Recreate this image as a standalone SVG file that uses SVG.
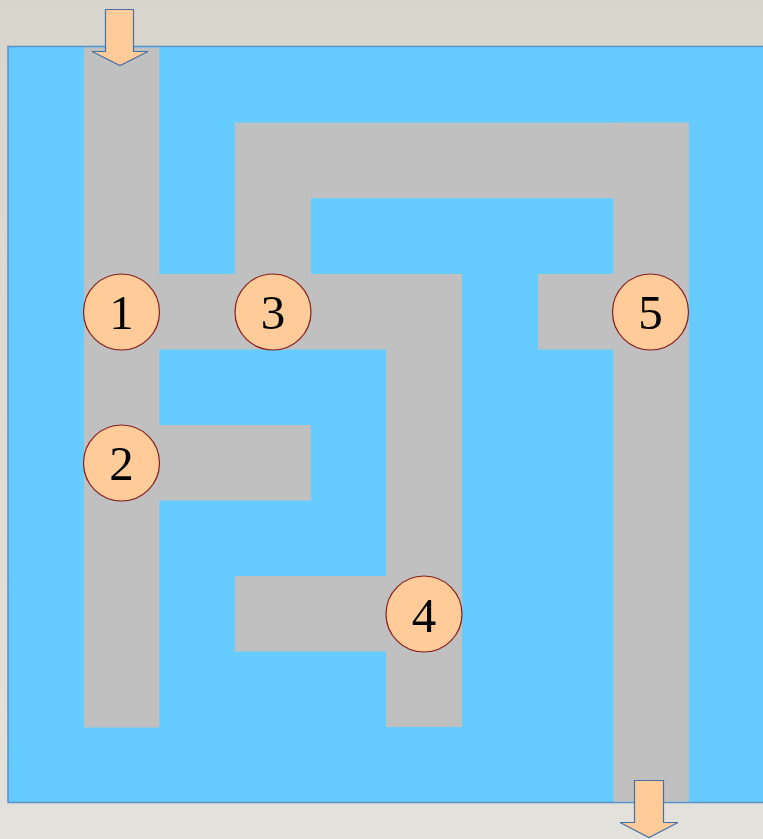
<svg xmlns="http://www.w3.org/2000/svg" width="763" height="839" viewBox="0 0 763 839">
  <defs>
    <linearGradient id="bg" x1="0" y1="0" x2="0" y2="1">
      <stop offset="0" stop-color="#d8d5cc"/>
      <stop offset="1" stop-color="#e2e1db"/>
    </linearGradient>
    <style>
      .path { fill: #C0C0C0; }
      .node circle { fill: #FFCC99; stroke: #8B1A1A; stroke-width: 1.2; }
      .node text { font-family: "Liberation Serif", "Times New Roman", serif; font-size: 49px; fill: #000; text-anchor: middle; }
      .arrow { fill: #FFCC99; stroke: #4A6FA5; stroke-width: 1.2; stroke-linejoin: miter; }
    </style>
  </defs>
  <rect x="0" y="0" width="763" height="839" fill="url(#bg)"/>
  <g id="maze">
    <rect x="8" y="46.5" width="760" height="756" fill="#66CCFF" stroke="#5B8FC7" stroke-width="1.5"/>
    <rect class="path" x="84" y="47.5" width="75.5" height="680"/>
    <rect class="path" x="235" y="122.7" width="454" height="75.5"/>
    <rect class="path" x="235" y="198" width="76" height="77"/>
    <rect class="path" x="159" y="274" width="303" height="75.5"/>
    <rect class="path" x="386" y="349" width="76" height="378"/>
    <rect class="path" x="159" y="425" width="152" height="75.5"/>
    <rect class="path" x="235" y="576" width="152" height="75.5"/>
    <rect class="path" x="613.5" y="122.7" width="75.5" height="679"/>
    <rect class="path" x="538" y="274" width="76" height="75.5"/>
  </g>
  <g id="connectors">
    <path class="arrow" d="M105.5,9.5 H133.5 V51.5 H148 L120,65.5 L92,51.5 H105.5 Z"/>
    <path class="arrow" d="M634.5,780.5 H663.5 V822.5 H678 L649,837.5 L620,822.5 H634.5 Z"/>
  </g>
  <g id="node1" class="node"><circle cx="121.5" cy="312" r="38"/><text x="121.5" y="328.5">1</text></g>
  <g id="node2" class="node"><circle cx="121.5" cy="463" r="38"/><text x="121.5" y="479.5">2</text></g>
  <g id="node3" class="node"><circle cx="273" cy="312" r="38"/><text x="273" y="328.5">3</text></g>
  <g id="node4" class="node"><circle cx="424" cy="614" r="38"/><text x="424" y="631.5">4</text></g>
  <g id="node5" class="node"><circle cx="650.5" cy="312" r="38"/><text x="650.5" y="328.5">5</text></g>
</svg>
